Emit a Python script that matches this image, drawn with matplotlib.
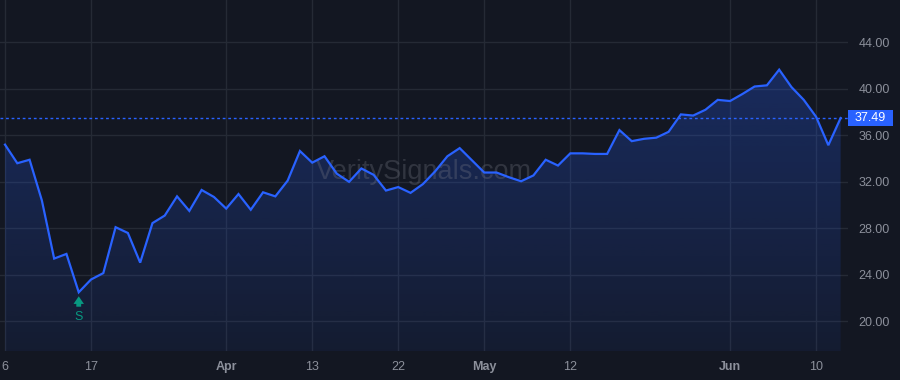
import numpy as np
import pandas as pd
import matplotlib
matplotlib.use("Agg")
from matplotlib import pyplot as plt
from matplotlib.patches import Rectangle
from matplotlib import transforms

plt.rcParams['font.family'] = ['Liberation Sans', 'DejaVu Sans']

# trading days, Mar 6 - Jun 12 2026 (Good Friday and Memorial Day closed)
holidays = ["2026-04-03", "2026-05-25"]
dates = pd.bdate_range("2026-03-06", "2026-06-12", freq="C", holidays=holidays)

prices = [35.2, 33.6, 33.9, 30.4, 25.4, 25.8, 22.5, 23.6, 24.15, 28.1,
          27.6, 25.05, 28.45, 29.1, 30.75, 29.5, 31.3, 30.7, 29.7, 30.95,
          29.6, 31.1, 30.75, 32.1, 34.65, 33.65, 34.2, 32.7, 32.0, 33.15,
          32.6, 31.25, 31.55, 31.05, 31.8, 32.9, 34.2, 34.9, 33.85, 32.8,
          32.8, 32.4, 32.05, 32.55, 33.9, 33.4, 34.45, 34.45, 34.4, 34.4,
          36.45, 35.5, 35.7, 35.8, 36.3, 37.8, 37.7, 38.2, 39.05, 38.95,
          39.55, 40.2, 40.3, 41.65, 40.15, 39.05, 37.6, 35.15, 37.49]

tick_dates = ["2026-03-06", "2026-03-17", "2026-04-01", "2026-04-13", "2026-04-22",
              "2026-05-01", "2026-05-12", "2026-06-01", "2026-06-10"]
tick_labels = ["6", "17", "Apr", "13", "22", "May", "12", "Jun", "10"]
month_labels = ["Apr", "May", "Jun"]

y_ticks = [20, 24, 28, 32, 36, 40, 44]

signal_date = "2026-03-16"
signal_text = "S"

bg = "#131722"
grid_c = "#252a35"
line_c = "#2962ff"
text_c = "#8c909b"
green = "#089981"

x = np.arange(len(prices))
y = np.array(prices)
last = prices[-1]

fig = plt.figure(figsize=(9, 3.8), dpi=100, facecolor=bg)
ax = fig.add_axes([0, 1 - 351 / 380, 848 / 900, 351 / 380])
ax.set_facecolor(bg)

ax.set_xlim(-0.407, 68.6)
ax.set_ylim(17.45, 47.64)

# gradient area under the line
fill = ax.fill_between(x, y, 0, color="none", lw=0)
grad = np.zeros((100, 1, 4))
blue = matplotlib.colors.to_rgb(line_c)
grad[:, 0, :3] = blue
grad[:, 0, 3] = np.linspace(0.27, 0.07, 100)
img = ax.imshow(grad, aspect="auto", extent=[x[0], x[-1], 17.45, y.max()],
                origin="upper", zorder=1)
img.set_clip_path(fill.get_paths()[0], transform=ax.transData)

ax.plot(x, y, color=line_c, lw=1.6, zorder=3, solid_joinstyle="miter")

# last price line and label
ax.axhline(last, color=line_c, lw=1, ls=(0, (2, 2)), zorder=2)
trans = transforms.blended_transform_factory(fig.transFigure, ax.transData)
ax.add_patch(Rectangle((848 / 900, last - 0.73), 45 / 900, 1.46, transform=trans,
                       facecolor=line_c, edgecolor="none", clip_on=False, zorder=5))
ax.text(870.5 / 900, last, "%.2f" % last, transform=trans, color="white",
        fontsize=9, ha="center", va="center", zorder=6)

# grid
tick_pos = [dates.get_loc(pd.Timestamp(d)) for d in tick_dates]
ax.set_xticks(tick_pos)
ax.set_xticklabels(tick_labels)
ax.set_yticks(y_ticks)
ax.set_yticklabels(["%.2f" % v for v in y_ticks])
ax.grid(True, color=grid_c, lw=1)
ax.set_axisbelow(True)
for s in ax.spines.values():
    s.set_visible(False)
ax.yaxis.tick_right()
ax.tick_params(axis="y", length=0, pad=7.5, labelsize=9, colors=text_c)
ax.tick_params(axis="x", length=0, pad=7, labelsize=9, colors=text_c)
for lab in ax.get_xticklabels():
    if lab.get_text() in month_labels:
        lab.set_fontweight("bold")

# buy signal marker
si = dates.get_loc(pd.Timestamp(signal_date))
sv = prices[si]
arrow_tip = transforms.offset_copy(ax.transData, fig=fig, y=-4, units="dots")
ax.annotate("", xy=(si, sv), xycoords=arrow_tip, xytext=(0, -7.5),
            textcoords="offset points",
            arrowprops=dict(arrowstyle="simple,head_length=0.55,head_width=0.75,tail_width=0.35",
                            color=green, lw=0, shrinkA=0, shrinkB=0), zorder=4)
ax.annotate(signal_text, xy=(si, sv), xytext=(0, -17.5), textcoords="offset points",
            color=green, fontsize=9, ha="center", va="center", zorder=4)

# watermark
ax.text(0.5, 0.51, "VeritySignals.com", transform=ax.transAxes, fontsize=19.5,
        color="#787b86", alpha=0.3, ha="center", va="center", zorder=2)

fig.savefig("out.png", dpi=100, facecolor=bg)
